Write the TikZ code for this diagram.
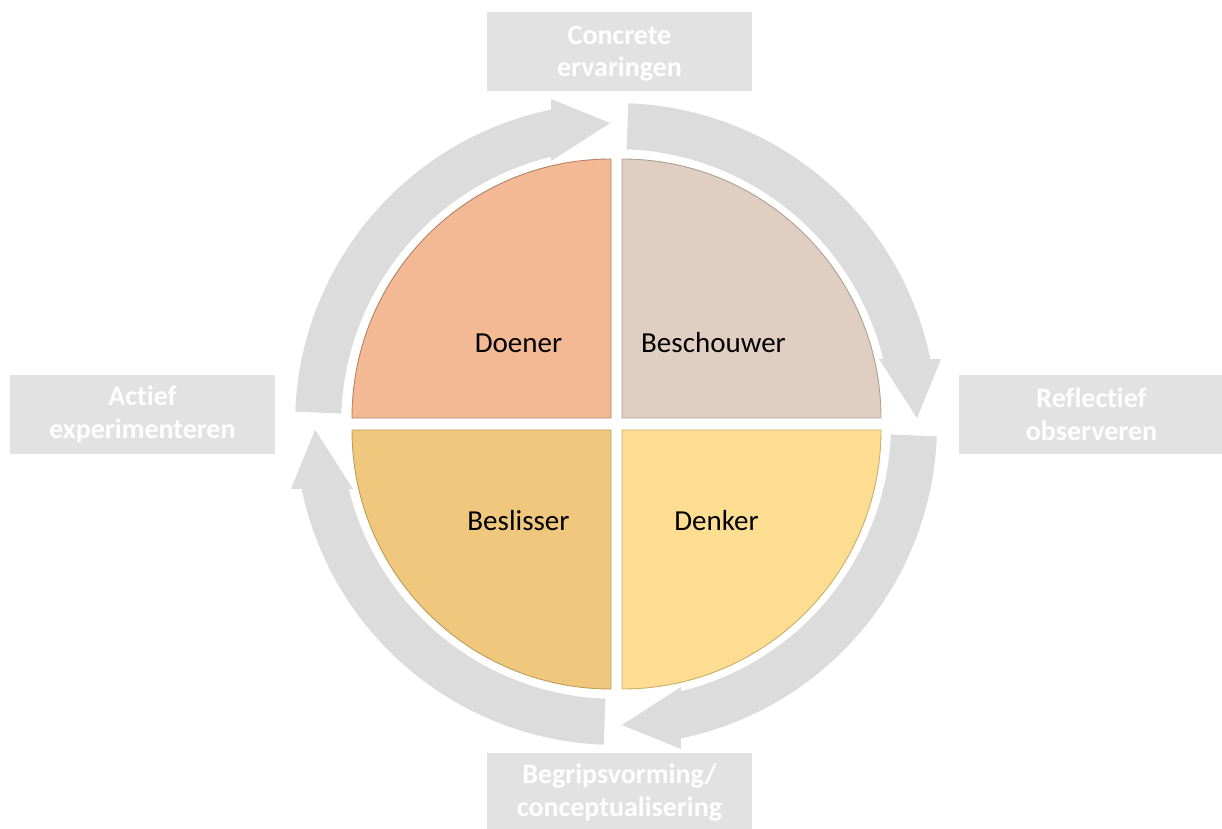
\documentclass[tikz,border=0pt]{standalone}
\usepackage{fontspec}
\setmainfont{Carlito}[Ligatures=NoCommon]
\definecolor{arrowgrey}{HTML}{DCDCDC}
\definecolor{boxgrey}{HTML}{E2E2E2}
\definecolor{doenerfill}{HTML}{F3B894}
\definecolor{doenerline}{HTML}{B98063}
\definecolor{beschfill}{HTML}{DFCEC1}
\definecolor{beschline}{HTML}{ADA094}
\definecolor{beslfill}{HTML}{F0C87D}
\definecolor{beslline}{HTML}{C09A58}
\definecolor{denkfill}{HTML}{FCDD92}
\definecolor{denkline}{HTML}{C9AE66}
\tikzset{
  cycarrow/.pic={
    \fill[arrowgrey] (87.8:321) arc[start angle=87.8, end angle=11.68, radius=321]
      -- (325,65) -- (1.1:301) -- (263,65) -- (13.67:275)
      arc[start angle=13.67, end angle=87.8, radius=275] -- cycle;
  },
  greybox/.style={fill=boxgrey, draw=none, minimum width=265pt, minimum height=79pt, inner sep=0pt},
  boxlabel/.style={text=white, align=center, font=\fontsize{28}{32.5}\selectfont\bfseries, inner sep=0pt},
  quadlabel/.style={text=black, font=\fontsize{29}{34}\selectfont, inner sep=0pt, anchor=base},
  quad/.style={line width=0.9pt}
}
\begin{document}
\begin{tikzpicture}[x=1pt, y=1pt]
\useasboundingbox (0,0) rectangle (1222,828);
% cycle arrows
\pic (arrB) at (616,404) {cycarrow};
\pic[rotate=90] (arrA) at (616,404) {cycarrow};
\pic[rotate=-90] (arrC) at (616,404) {cycarrow};
\pic[rotate=180] (arrD) at (616,404) {cycarrow};
% quadrants
\fill[doenerfill, draw=doenerline, quad] (611,410) -- ++(-259,0) arc[start angle=180, end angle=90, radius=259] -- cycle;
\fill[beschfill, draw=beschline, quad] (622,410) -- ++(0,259) arc[start angle=90, end angle=0, radius=259] -- cycle;
\fill[denkfill, draw=denkline, quad] (622,398) -- ++(259,0) arc[start angle=0, end angle=-90, radius=259] -- cycle;
\fill[beslfill, draw=beslline, quad] (611,398) -- ++(0,-259) arc[start angle=270, end angle=180, radius=259] -- cycle;
% quadrant labels
\node[quadlabel] (doener) at (518.5,475.3) {Doener};
\node[quadlabel] (besch) at (713.5,475.3) {Beschouwer};
\node[quadlabel] (besl) at (518.5,298) {Beslisser};
\node[quadlabel] (denk) at (716.5,298) {Denker};
% grey boxes
\node[greybox] (topbox) at (619.5,776.5) {};
\node[boxlabel] (toptext) at (619.5,774.5) {Concrete\\ervaringen};
\node[greybox] (rightbox) at (1091.5,413.5) {};
\node[boxlabel] (righttext) at (1091.5,413.5) {Reflectief\\observeren};
\node[greybox] (leftbox) at (142.5,413.5) {};
\node[boxlabel] (lefttext) at (142.5,413.5) {Actief\\experimenteren};
\node[greybox] (botbox) at (619.5,35.5) {};
\node[boxlabel] (bottext) at (619.5,35.5) {Begripsvorming/\\conceptualisering};
\end{tikzpicture}
\end{document}
